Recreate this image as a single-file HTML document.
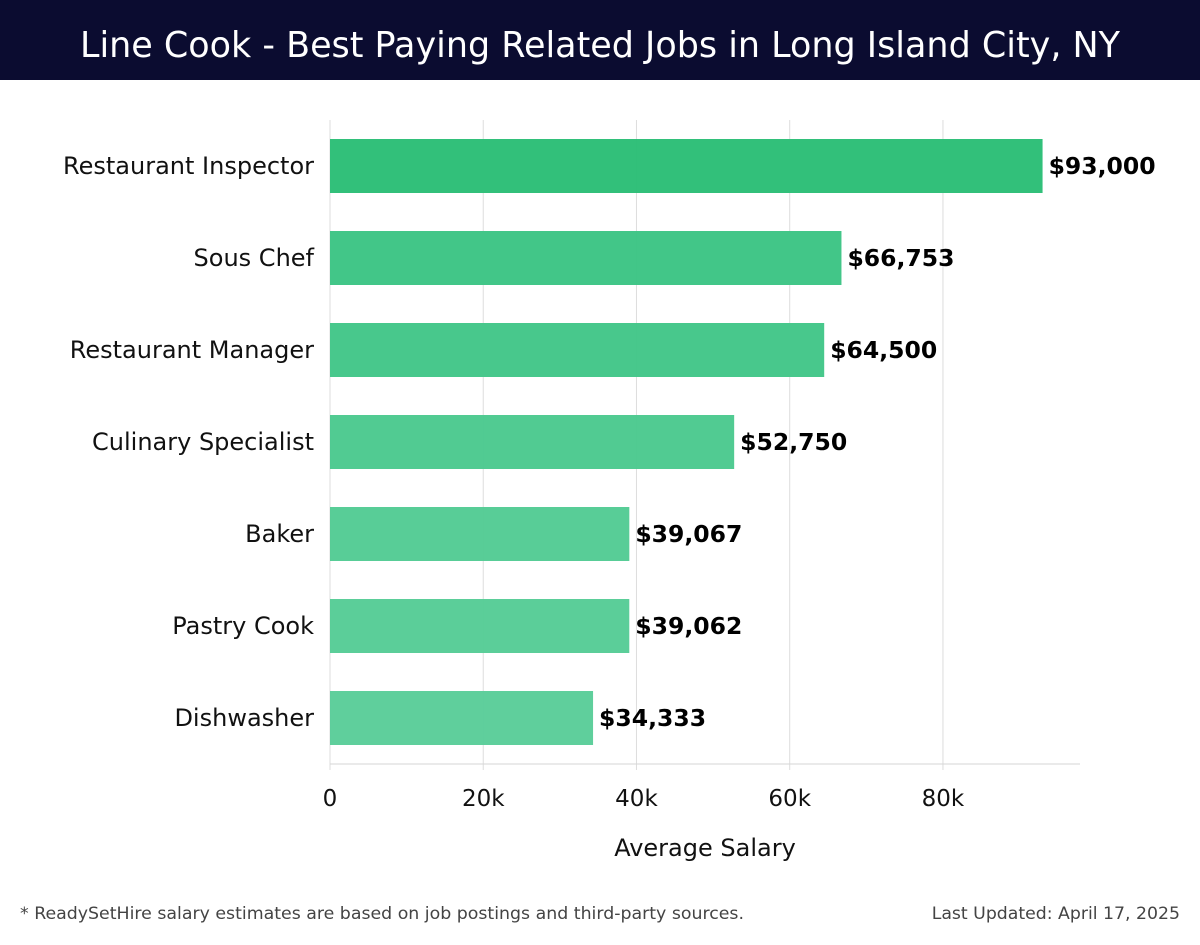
<!DOCTYPE html>
<html><head><meta charset="utf-8"><style>
body{margin:0;width:1200px;height:940px;background:#fff;font-family:"Liberation Sans","DejaVu Sans",sans-serif;overflow:hidden}
</style></head><body>
<svg width="1200" height="940" xmlns="http://www.w3.org/2000/svg">
<rect x="0" y="0" width="1200" height="80" fill="#0b0c30"/>
<text x="80" y="57" textLength="1040" lengthAdjust="spacingAndGlyphs" fill="#fff" font-size="36" font-family="DejaVu Sans, sans-serif">Line Cook - Best Paying Related Jobs in Long Island City, NY</text>
<g id="grid"></g>
<g id="bars"></g>
<g id="axis"></g>
<text x="705" y="856" text-anchor="middle" font-size="24" font-family="DejaVu Sans, sans-serif" fill="#111">Average Salary</text>
<text x="20" y="919" textLength="724" lengthAdjust="spacingAndGlyphs" font-size="17.3" font-family="DejaVu Sans, sans-serif" fill="#444">* ReadySetHire salary estimates are based on job postings and third-party sources.</text>
<text x="1180" y="919" text-anchor="end" font-size="17.3" font-family="DejaVu Sans, sans-serif" fill="#444">Last Updated: April 17, 2025</text>
</svg>
<script>
const categories=["Restaurant Inspector","Sous Chef","Restaurant Manager","Culinary Specialist","Baker","Pastry Cook","Dishwasher"];
const salaries=[93000,66753,64500,52750,39067,39062,34333];
const valueLabels=["$93,000","$66,753","$64,500","$52,750","$39,067","$39,062","$34,333"];
const tickValues=[0,20000,40000,60000,80000];
const tickLabels=["0","20k","40k","60k","80k"];
const barColors=["#2bbe76","#3cc484","#42c688","#4bc98e","#53cb94","#56cc96","#5acd99"];
const NS="http://www.w3.org/2000/svg";
const x=v=>330+v*0.007662;
const y=i=>166+i*92;
function mk(t,a,p){const e=document.createElementNS(NS,t);for(const k in a)e.setAttribute(k,a[k]);p.appendChild(e);return e;}
const grid=document.getElementById('grid'),bars=document.getElementById('bars'),axis=document.getElementById('axis');
tickValues.forEach((v,i)=>{
 const g=mk('line',{x1:x(v),x2:x(v),y1:120,y2:770,stroke:'#dddddd','stroke-width':1},grid);
 
 
 const t=mk('text',{x:x(v),y:806,'text-anchor':'middle','font-size':23,'font-family':'DejaVu Sans, sans-serif',fill:'#111'},axis);
 t.textContent=tickLabels[i];
 
 
});
const al=mk('line',{x1:330,x2:1080,y1:764,y2:764,stroke:'#d6d6d6','stroke-width':1},axis);


categories.forEach((c,i)=>{
 const r=mk('rect',{x:330,y:y(i)-27,width:x(salaries[i])-330,height:54,fill:barColors[i],'fill-opacity':0.97},bars);
 
 
 const l=mk('text',{x:314,y:y(i)+8,'text-anchor':'end','font-size':24,'font-family':'DejaVu Sans, sans-serif',fill:'#111'},bars);
 l.textContent=c;
 
 
 const v=mk('text',{x:x(salaries[i])+6,y:y(i)+8,'font-size':23.5,'font-weight':'bold','font-family':'DejaVu Sans, sans-serif',fill:'#000'},bars);
 v.textContent=valueLabels[i];
 
 
});
</script>
</body></html>
